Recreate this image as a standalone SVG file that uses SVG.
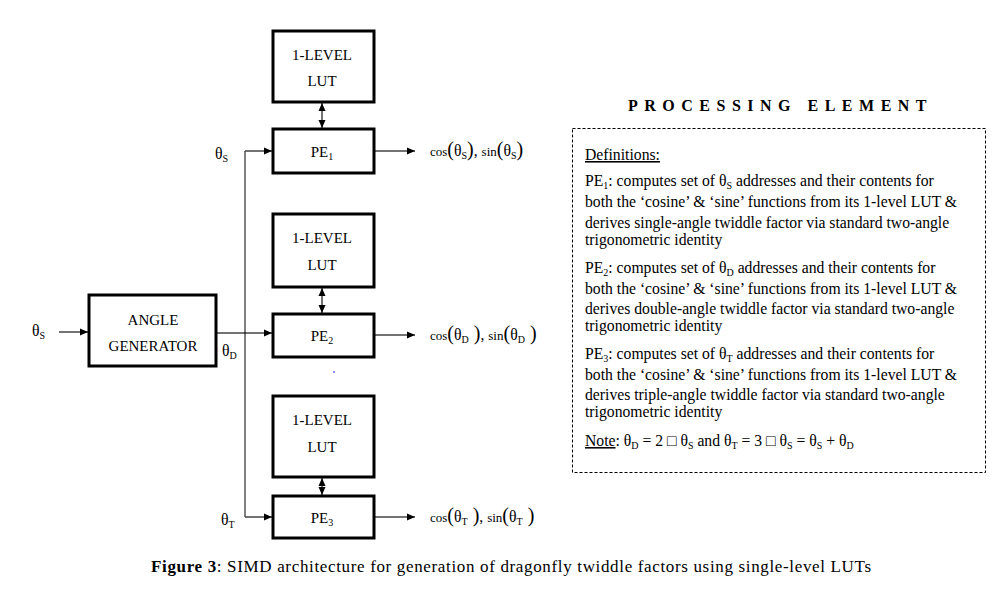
<svg xmlns="http://www.w3.org/2000/svg" width="1002" height="590" viewBox="0 0 1002 590" font-family="'Liberation Serif', 'Times New Roman', serif">
<style>
.box{fill:#fff;stroke:#000;stroke-width:3;}
.lbl{font-size:15px;text-anchor:middle;}
.con{stroke:#444;stroke-width:1.5;fill:none;}
.bus{stroke:#000;stroke-width:1;fill:none;}
.def{font-size:15.7px;}
.sm{font-size:10px;}
.fn{font-size:13px;}
.par{font-size:20px;}
</style>
<defs>
<marker id="ah" viewBox="0 0 8 8" refX="8" refY="4" markerWidth="8" markerHeight="8" markerUnits="userSpaceOnUse" orient="auto-start-reverse">
<path d="M0,0.5 L8,4 L0,7.5 z" fill="#000"/>
</marker>
</defs>

<g id="connectors">
<line class="con" x1="59" y1="332" x2="88" y2="332" marker-end="url(#ah)"/>
<line class="con" x1="217" y1="333" x2="272" y2="333" marker-end="url(#ah)"/>
<line class="bus" x1="245" y1="151" x2="245" y2="517"/>
<line class="con" x1="245" y1="151" x2="272" y2="151" marker-end="url(#ah)"/>
<line class="con" x1="245" y1="517" x2="272" y2="517" marker-end="url(#ah)"/>
<line class="con" x1="374" y1="151" x2="415" y2="151" marker-end="url(#ah)"/>
<line class="con" x1="374" y1="335" x2="415" y2="335" marker-end="url(#ah)"/>
<line class="con" x1="374" y1="517" x2="415" y2="517" marker-end="url(#ah)"/>
<line class="con" x1="322" y1="103" x2="322" y2="128" marker-start="url(#ah)" marker-end="url(#ah)"/>
<line class="con" x1="322" y1="288" x2="322" y2="313" marker-start="url(#ah)" marker-end="url(#ah)"/>
<line class="con" x1="322" y1="478" x2="322" y2="495" marker-start="url(#ah)" marker-end="url(#ah)"/>
</g>

<g id="lut1"><rect class="box" x="273" y="31" width="101" height="71"/>
<text class="lbl" x="322" y="60">1-LEVEL</text><text class="lbl" x="322" y="86">LUT</text></g>
<g id="pe1"><rect class="box" x="273" y="129" width="101" height="44"/>
<text class="lbl" x="322" y="157">PE<tspan class="sm" dy="3">1</tspan></text></g>

<g id="lut2"><rect class="box" x="273" y="214" width="101" height="73"/>
<text class="lbl" x="322" y="243">1-LEVEL</text><text class="lbl" x="322" y="270">LUT</text></g>
<g id="pe2"><rect class="box" x="273" y="314" width="101" height="43"/>
<text class="lbl" x="322" y="341">PE<tspan class="sm" dy="3">2</tspan></text></g>

<g id="lut3"><rect class="box" x="273" y="396" width="101" height="81"/>
<text class="lbl" x="322" y="425">1-LEVEL</text><text class="lbl" x="322" y="452">LUT</text></g>
<g id="pe3"><rect class="box" x="273" y="496" width="101" height="42"/>
<text class="lbl" x="322" y="523">PE<tspan class="sm" dy="3">3</tspan></text></g>

<g id="angle-generator"><rect class="box" x="89" y="295" width="127" height="71"/>
<text class="lbl" x="153" y="325">ANGLE</text><text class="lbl" x="153" y="351">GENERATOR</text></g>

<g id="labels">
<text class="def" x="32" y="336">θ<tspan class="sm" dy="3">S</tspan></text>
<text class="def" x="215" y="159">θ<tspan class="sm" dy="3">S</tspan></text>
<text class="def" x="222" y="356">θ<tspan class="sm" dy="3">D</tspan></text>
<text class="def" x="221" y="525">θ<tspan class="sm" dy="3">T</tspan></text>
<text class="def" x="430" y="156"><tspan class="fn">cos</tspan><tspan class="par">(</tspan>θ<tspan class="sm" dy="3">S</tspan><tspan class="par" dy="-3">)</tspan>, <tspan class="fn">sin</tspan><tspan class="par">(</tspan>θ<tspan class="sm" dy="3">S</tspan><tspan class="par" dy="-3">)</tspan></text>
<text class="def" x="430" y="340"><tspan class="fn">cos</tspan><tspan class="par">(</tspan>θ<tspan class="sm" dy="3">D</tspan><tspan class="par" dy="-3"> )</tspan>, <tspan class="fn">sin</tspan><tspan class="par">(</tspan>θ<tspan class="sm" dy="3">D</tspan><tspan class="par" dy="-3"> )</tspan></text>
<text class="def" x="430" y="522"><tspan class="fn">cos</tspan><tspan class="par">(</tspan>θ<tspan class="sm" dy="3">T</tspan><tspan class="par" dy="-3"> )</tspan>, <tspan class="fn">sin</tspan><tspan class="par">(</tspan>θ<tspan class="sm" dy="3">T</tspan><tspan class="par" dy="-3"> )</tspan></text>
<circle cx="334" cy="372" r="0.8" fill="#00f"/>
</g>

<g id="processing-element">
<text x="628" y="111" font-size="16" font-weight="bold" letter-spacing="6.5">PROCESSING ELEMENT</text>
<rect x="572.5" y="128.5" width="413" height="344" fill="none" stroke="#000" stroke-width="1" stroke-dasharray="3,2"/>
<text class="def" x="585" y="160" text-decoration="underline">Definitions:</text>
<text class="def" x="585" y="186">PE<tspan class="sm" dy="3">1</tspan><tspan dy="-3">: computes set of  θ</tspan><tspan class="sm" dy="3">S</tspan><tspan dy="-3"> addresses and their contents for</tspan></text>
<text class="def" x="585" y="207">both the ‘cosine’ &amp; ‘sine’ functions from its 1-level LUT &amp;</text>
<text class="def" x="585" y="228">derives single-angle twiddle factor via standard two-angle</text>
<text class="def" x="585" y="245">trigonometric identity</text>
<text class="def" x="585" y="273">PE<tspan class="sm" dy="3">2</tspan><tspan dy="-3">: computes set of  θ</tspan><tspan class="sm" dy="3">D</tspan><tspan dy="-3"> addresses and their contents for</tspan></text>
<text class="def" x="585" y="294">both the ‘cosine’ &amp; ‘sine’ functions from its 1-level LUT &amp;</text>
<text class="def" x="585" y="314">derives double-angle twiddle factor via standard two-angle</text>
<text class="def" x="585" y="331">trigonometric identity</text>
<text class="def" x="585" y="359">PE<tspan class="sm" dy="3">3</tspan><tspan dy="-3">: computes set of  θ</tspan><tspan class="sm" dy="3">T</tspan><tspan dy="-3"> addresses and their contents for</tspan></text>
<text class="def" x="585" y="380">both the ‘cosine’ &amp; ‘sine’ functions from its 1-level LUT &amp;</text>
<text class="def" x="585" y="400">derives triple-angle twiddle factor via standard two-angle</text>
<text class="def" x="585" y="417">trigonometric identity</text>
<text class="def" x="585" y="446"><tspan text-decoration="underline">Note</tspan>: θ<tspan class="sm" dy="3">D</tspan><tspan dy="-3"> = 2 □ θ</tspan><tspan class="sm" dy="3">S</tspan><tspan dy="-3"> and θ</tspan><tspan class="sm" dy="3">T</tspan><tspan dy="-3"> = 3 □ θ</tspan><tspan class="sm" dy="3">S</tspan><tspan dy="-3"> = θ</tspan><tspan class="sm" dy="3">S</tspan><tspan dy="-3"> + θ</tspan><tspan class="sm" dy="3">D</tspan></text>
</g>

<g id="caption">
<text x="151" y="572" font-size="17" textLength="720" lengthAdjust="spacing"><tspan font-weight="bold">Figure 3</tspan>: SIMD architecture for generation of dragonfly twiddle factors using single-level LUTs</text>
</g>
</svg>
